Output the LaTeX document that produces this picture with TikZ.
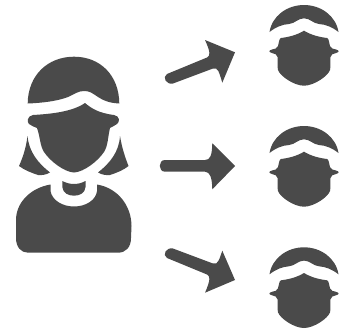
\documentclass[tikz,border=0pt]{standalone}
\definecolor{gris}{HTML}{4A4A4A}
\tikzset{
  silueta/.style={fill=gris,draw=none},
  cabeza/.pic={
    \fill[silueta] (-34.5,32) .. controls (-32,16) and (-17,5) .. (0,5) .. controls (17,5) and (32,16) .. (34.5,32)
      .. controls (28,27) and (22,24.5) .. (15,24) .. controls (9,23.5) and (6,18.3) .. (0,18.3)
      .. controls (-6,18.3) and (-9,23.5) .. (-15,24) .. controls (-22,24.5) and (-28,27) .. (-34.5,32) -- cycle;
    \fill[silueta] (0,30.7) .. controls (7,35) and (15,37) .. (23,38) .. controls (25,38.5) and (25,43) .. (26,46)
      .. controls (27,49) and (29,48.5) .. (32,49.5) .. controls (35.5,50.5) and (35.5,52) .. (32,53)
      .. controls (29,54) and (27,54) .. (26.5,57) .. controls (26,61) and (27,66) .. (26,70) .. controls (24,76) and (10,85.7) .. (0,85.7)
      .. controls (-10,85.7) and (-24,76) .. (-26,70) .. controls (-27,66) and (-26,61) .. (-26.5,57)
      .. controls (-27,54) and (-29,54) .. (-32,53) .. controls (-35.5,52) and (-35.5,50.5) .. (-32,49.5)
      .. controls (-29,48.5) and (-27,49) .. (-26,46) .. controls (-25,43) and (-25,38.5) .. (-23,38)
      .. controls (-15,37) and (-7,35) .. (0,30.7) -- cycle;
  }
}
\begin{document}
\begin{tikzpicture}[x=1pt,y=-1pt]
  \useasboundingbox (0,0) rectangle (345,332);
  % woman
  \fill[silueta] (27.7,103.5) .. controls (28,75) and (48,56.7) .. (74,56.7) .. controls (100,56.7) and (119,75) .. (119.3,103.5)
    .. controls (110,103) and (104,101) .. (98,97) .. controls (92,93) and (90,91) .. (84,91)
    .. controls (78,91) and (75,94) .. (68,97) .. controls (58,101) and (42,103) .. (27.7,103.5) -- cycle;
  \fill[silueta] (85,103) .. controls (91,108) and (98,113) .. (114,115) .. controls (120,116) and (120,122) .. (117,124)
    .. controls (114,126) and (112,127) .. (110,128) .. controls (108,136) and (108,146) .. (104,152)
    .. controls (98,161) and (84,172) .. (74,172.5) .. controls (64,172) and (50,161) .. (44,152)
    .. controls (40,146) and (40,136) .. (37,128) .. controls (34,127) and (32,126) .. (29,124)
    .. controls (27,122) and (27,116) .. (33,115) .. controls (50,114) and (72,112) .. (85,103) -- cycle;
  \fill[silueta] (27.5,136) .. controls (29,152) and (38,163) .. (50,172.5) .. controls (46,175) and (40,175.5) .. (38,175)
    .. controls (32,173) and (24,170) .. (19,166) .. controls (23,157) and (26,148) .. (27.5,136) -- cycle;
  \fill[silueta] (120,136) .. controls (119,152) and (110,163) .. (98,172.5) .. controls (102,175) and (108,175.5) .. (110,175)
    .. controls (116,173) and (124,170) .. (128.5,166) .. controls (125,157) and (122,148) .. (120,136) -- cycle;
  \fill[silueta] (62.3,181) .. controls (70,185) and (78,185) .. (85.5,181) -- (85.5,187) .. controls (85,193) and (80,195.7) .. (74,195.7)
    .. controls (68,195.7) and (63,193) .. (62.3,187) -- cycle;
  \fill[silueta] (50.5,184.5) -- (50.5,191) .. controls (52,200) and (62,206.5) .. (74,206.5) .. controls (86,206.5) and (96,200) .. (97,191)
    -- (97,184.5) .. controls (118,188) and (131.5,206) .. (131.5,226) -- (131,238) .. controls (131,247) and (126,252.7) .. (118,252.7)
    -- (28,252.7) .. controls (21,252.7) and (16,247) .. (16,238) -- (16,220) .. controls (16,203) and (30,188) .. (50.5,184.5) -- cycle;
  % heads
  \pic at (304,0) {cabeza};
  \pic at (304,121) {cabeza};
  \pic at (304,242.3) {cabeza};
  % arrows
  \fill[silueta] (167,74) -- (207,57.5) .. controls (210,56) and (211,53) .. (205,40) -- (235,52.3) -- (222.3,82.7)
    .. controls (219,72) and (218,67) .. (213,68.5) -- (173,83.5) .. controls (166,85) and (162,77) .. (167,74) -- cycle;
  \fill[silueta] (165,160) -- (205,160) .. controls (210,160) and (212,156) .. (212.3,143.3) -- (235,166) -- (212.3,189.3)
    .. controls (212,177) and (210,172) .. (205,171.7) -- (165,171.7) .. controls (158,171.7) and (158,160) .. (165,160) -- cycle;
  \fill[silueta] (167,258) -- (207,274.5) .. controls (210,276) and (211,279) .. (205,292.7) -- (235,280) -- (222.3,250.7)
    .. controls (219,260) and (218,265) .. (213,263.5) -- (173,248.5) .. controls (166,247) and (162,255) .. (167,258) -- cycle;
\end{tikzpicture}
\end{document}
